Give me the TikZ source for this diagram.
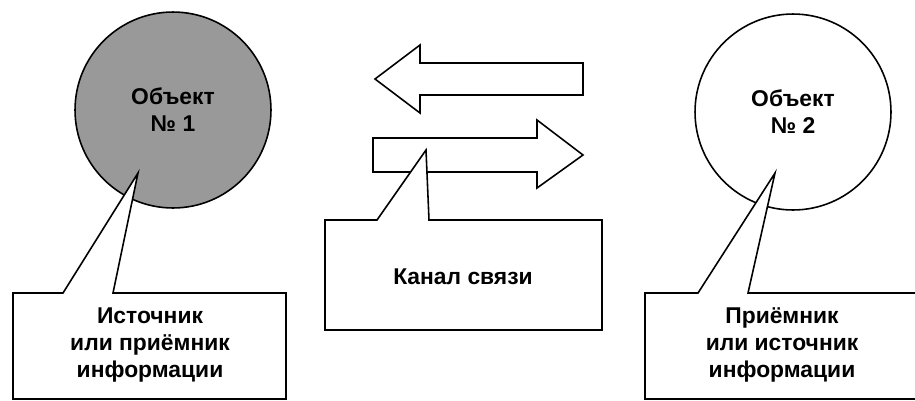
\documentclass[tikz,border=0pt]{standalone}
\usepackage{fontspec}
\setmainfont{Liberation Sans}
\begin{document}
\begin{tikzpicture}[x=0.02cm, y=-0.02cm, line width=0.9pt, line join=miter,
    font=\fontsize{13}{15.4}\selectfont\bfseries,
    obj/.style={circle, draw, minimum size=3.92cm, align=center},
    callout/.style={draw, fill=white},
    txt/.style={align=center}]
            \useasboundingbox (0,0) rectangle (915,400);
            \node[obj, fill=black!40] (obj1) at (173,110) {Объект\\№ 1};
            \node[obj] (obj2) at (793,112) {Объект\\№ 2};
            \draw[fill=white] (375,79) -- (420,45) -- (420,63) -- (583,63) -- (583,95) -- (420,95) -- (420,113) -- cycle;
            \draw[fill=white] (583,155) -- (537,120) -- (537,138) -- (373,138) -- (373,172) -- (537,172) -- (537,188) -- cycle;
            \coordinate (tip1) at (138,173);
            \coordinate (tip2) at (775,173);
            \coordinate (tip3) at (426,150);
            \draw[callout] (13,399) -- (13,293) -- (63,293) -- (tip1) -- (113,293) -- (286,293) -- (286,399) -- cycle;
            \draw[callout] (325,330) -- (325,220) -- (377,220) -- (tip3) -- (429,220) -- (602,220) -- (602,330) -- cycle;
            \draw[callout] (645,399) -- (645,293) -- (698,293) -- (tip2) -- (748,293) -- (918,293) -- (918,399) -- cycle;
            \node[txt] (src) at (150,345) {Источник\\или приёмник\\информации};
            \node[txt] (chan) at (463,277) {Канал связи};
            \node[txt] (dst) at (782,345) {Приёмник\\или источник\\информации};
        \end{tikzpicture}
\end{document}
